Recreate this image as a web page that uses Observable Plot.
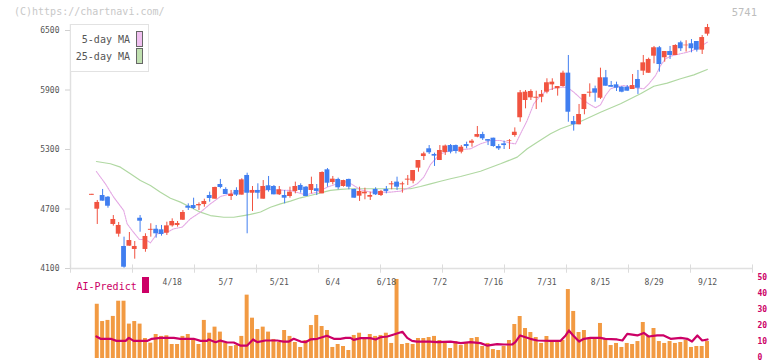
<!DOCTYPE html>
<html><head><meta charset="utf-8">
<script src="https://cdn.jsdelivr.net/npm/d3@7"></script>
<script src="https://cdn.jsdelivr.net/npm/@observablehq/plot@0.6"></script>
<style>
body{margin:0;background:#fff;}
#wrap{position:relative;width:772px;height:361px;font-family:"DejaVu Sans Mono",monospace;overflow:hidden;}
#wrap svg{position:absolute;left:0;}
.hdr{position:absolute;font-size:10px;line-height:12px;white-space:nowrap;}
#legend{position:absolute;left:70px;top:24px;width:77px;height:46px;border:1px solid #e2e2e2;background:#fff;}
.lg{position:absolute;right:18px;font-size:10px;line-height:12px;color:#555;white-space:nowrap;}
.sw{position:absolute;left:65px;width:5px;height:14px;border:1px solid #666;}
#aisw{position:absolute;left:142px;top:277px;width:7px;height:16px;background:#cc0066;}
</style></head><body>
<div id="wrap">
</div>
<script>
// ---- data ----
const openP  = [4838,4698,4836,4819,4544,4446,4322,4325,4292,4607,4292,4485,4496,4490,4456,4530,4534,4587,4728,4735,4732,4745,4836,4799,4947,4897,4826,4887,4840,5038,4859,4887,4799,4934,4927,4843,4836,4826,4877,4937,4920,4887,4904,4853,5095,4967,4998,4927,4998,4897,4829,4853,4819,4897,4836,4897,4944,4971,4944,4991,4981,5112,5229,5307,5250,5189,5270,5340,5340,5273,5350,5363,5424,5451,5400,5414,5330,5357,5380,5441,5620,5794,5821,5817,5827,5878,5952,5912,5935,6070,5582,5549,5703,5868,5912,5817,6023,5945,5952,5928,5928,5905,6006,6090,6069,6241,6326,6225,6288,6248,6376,6346,6366,6389,6302,6463];
const highP  = [4848,4786,4897,4826,4634,4564,4416,4463,4372,4634,4450,4551,4534,4534,4567,4601,4574,4685,4752,4809,4762,4799,4870,4920,4998,4914,4887,4914,5005,5061,4927,4954,4987,5028,4937,4927,4887,4920,4971,4954,4927,5021,4947,5075,5108,5028,5011,4990,5001,4900,4920,4910,4870,4914,4887,4927,4977,5021,4971,5038,5088,5189,5273,5340,5263,5340,5345,5350,5345,5340,5374,5400,5532,5474,5400,5414,5350,5384,5400,5518,5895,5895,5902,5888,5895,6013,6013,5935,6090,6248,5633,5754,5855,5962,5939,6120,6097,5986,5979,5935,5945,6056,6097,6248,6221,6339,6339,6288,6339,6356,6392,6397,6409,6389,6449,6561];
const lowP   = [4838,4544,4779,4708,4527,4416,4103,4325,4194,4466,4264,4416,4406,4426,4433,4517,4517,4584,4685,4695,4685,4718,4769,4799,4904,4846,4786,4826,4840,4450,4675,4799,4799,4870,4843,4836,4752,4809,4853,4860,4826,4853,4836,4853,4920,4944,4894,4920,4894,4809,4776,4793,4786,4836,4826,4853,4894,4887,4860,4937,4954,5071,5189,5250,5129,5189,5240,5256,5256,5256,5307,5323,5418,5391,5340,5323,5290,5300,5300,5424,5575,5710,5794,5703,5771,5861,5895,5838,5928,5575,5485,5549,5650,5827,5777,5804,5938,5928,5885,5872,5888,5905,5855,6046,6069,6164,6080,6180,6208,6248,6288,6282,6275,6282,6258,6443];
const closeP = [4848,4766,4779,4728,4594,4534,4113,4382,4322,4577,4423,4495,4450,4443,4530,4574,4554,4665,4708,4705,4745,4776,4806,4917,4917,4846,4849,4840,4994,4859,4887,4859,4927,4887,4843,4894,4809,4870,4927,4887,4826,4947,4877,5068,4960,5001,4914,4987,4920,4809,4877,4870,4836,4843,4877,4877,4954,4920,4954,5001,5088,5189,5256,5267,5233,5290,5335,5273,5280,5323,5330,5384,5451,5408,5384,5330,5307,5340,5387,5474,5872,5878,5885,5827,5855,5973,5979,5935,6070,5676,5549,5653,5855,5878,5868,6023,5938,5928,5918,5878,5888,5945,5918,6174,6208,6326,6157,6288,6248,6349,6316,6352,6316,6302,6429,6530];
// volume bars (right-axis units), index 0 has no bar
const volume = [null,33.9,23.1,23.8,26.3,35.8,35.8,21.5,23.1,21.5,12.5,9.6,15,13.8,14.2,8.75,8.75,13.8,15,12.3,8.75,23.8,15.8,19.6,16.5,9.6,7.5,8.1,13.8,39.6,25.2,18.1,19.6,16.5,11.9,10,17.5,13.8,10,6.9,11.25,20.6,26.9,20,17.5,6.9,8.75,7.5,5,14.4,15.8,11.9,15,13.8,14.4,15.8,9.4,49.4,8.75,9.4,8.75,12.5,12.5,13.1,13.8,11.25,10,6.25,10.6,8.1,10,12.5,13.1,7.5,9.4,5.6,5,7.5,11.25,21.25,26.25,18.75,16.25,13.1,9.4,13.75,10,10,11.25,43.1,29.4,16.25,17.5,12.5,12.5,21.9,11.9,8.1,9.4,6.9,9.4,8.75,10.6,22.5,13.75,18.75,10.6,9.4,10.6,9.4,10,11.25,6.9,7.5,7.5,10.6];
// moving averages: day position and value
const ma5Day = [0.84,2.52,4.07,5.94,6.58,7.51,8.88,10.0,10.93,12.18,14.05,15.28,16.85,18.4,20.27,22.14,24.01,25.88,27.75,29.62,33.35,37.09,39.89,42.08,43.95,45.81,47.68,48.92,50.17,52.04,53.9,55.77,57.64,59.51,60.76,62.0,63.25,64.5,65.12,66.99,70.72,72.59,74.46,76.33,78.2,79.13,81.3,82.55,83.8,85.05,86.92,88.79,90.02,91.3,92.82,94.07,95.01,95.94,96.88,97.81,99.36,100.62,103.1,104.04,105.29,106.22,107.16,108.09,109.34,111.21,113.08,114.95];
const ma5Val = [5078,4954,4819,4685,4551,4483,4392,4392,4359,4450,4466,4500,4517,4601,4668,4752,4826,4853,4887,4880,4894,4887,4843,4870,4920,4954,4977,4937,4894,4870,4870,4870,4880,4920,4954,5021,5149,5223,5256,5290,5307,5357,5391,5391,5364,5357,5592,5761,5845,5895,5928,5928,5878,5815,5761,5720,5751,5845,5912,5928,5945,5928,5912,5962,6046,6147,6215,6241,6258,6281,6316,6382];
const ma25Day = [0.84,3.46,5.33,7.19,9.06,10.93,12.8,14.67,16.54,18.4,20.27,22.14,24.63,26.5,28.36,29.6,31.5,33.35,35.22,37.09,38.96,40.83,42.7,44.56,46.43,48.3,52.04,55.77,59.51,61.38,63.25,65.12,66.99,68.86,72.59,76.33,79.45,81.32,83.18,85.67,87.54,91.27,95.01,98.75,102.48,104.97,107.47,109.96,112.45,114.95];
const ma25Val = [5179,5156,5122,5055,4987,4937,4870,4809,4769,4718,4668,4634,4617,4617,4634,4645,4670,4718,4752,4779,4813,4836,4863,4887,4897,4904,4904,4904,4904,4927,4954,4980,5005,5028,5081,5156,5223,5307,5374,5458,5509,5582,5676,5761,5862,5938,5969,6013,6053,6107];
// AI-Predict line
const aiDay = [0.84,1.6,3.5,4.6,6.3,6.9,7.8,10.3,11.2,12.8,15.3,16.5,19,20.3,21.5,21.8,23.1,24,25.3,26.5,27.7,29,30.1,30.9,32.4,34.6,35.8,36.8,37.7,39,39.9,40.8,42.1,43.9,45.2,46.4,47.4,48.3,48.9,50.2,52,53,53.9,55.2,56.4,58,58.9,59.8,60.7,63.2,64.5,67,68.9,70.7,72.6,73.8,75.7,77,78.5,79.1,80,81,81.9,83.2,85.7,87.5,88.5,89.1,89.9,91,91.9,93.1,95,95.9,98.1,99.1,100,101.9,103.1,104,105.6,106.8,108.1,110,111.2,112.1,113.1,114,115];
const aiVal = [13.75,12.3,12.3,11,11,12.9,11,11,12.3,12.9,12.9,12.3,12.3,11,11,11.9,10.2,11.2,10,10,8.1,8.1,11.9,10.2,11.25,11.25,10.6,10.6,12.3,10.6,10.2,11.9,12.3,14.2,12.3,12.3,12.9,12.9,11.6,12.7,12.7,11.9,13.3,13.75,15,16.7,12.9,11,10.6,10.6,10.2,10.6,9.6,10.2,9.6,8.1,9,8.75,8.75,10.2,14.4,13.3,12.3,11.25,11,11,14.4,17.5,14.4,10.6,12.3,12.9,12.9,12.3,11.9,11.25,15.4,14.4,16,13.75,14.4,14.4,12.3,12.9,12.3,10.6,14.4,11.25,11.9];
const dateDay = [15,25,35,45,55,65,75,85,95,105,115];
const dateLabels = ["4/18","5/7","5/21","6/4","6/18","7/2","7/16","7/31","8/15","8/29","9/12"];
const priceTicks = [4100,4700,5300,5900,6500];
const aiTicks = [0,10,20,30,40,50];

// ---- build ----
const RED = "#f15340", BLUE = "#407ef0", ORANGE = "#f29a42", MAG = "#cc0066";
const candles = openP.map((o,i)=>({i, open:o, high:highP[i], low:lowP[i], close:closeP[i]}));
const up = d => d.close >= d.open;
const vols = volume.map((v,i)=>({i, v})).filter(d=>d.v!=null);
const ma5 = ma5Day.map((d,k)=>({d, v:ma5Val[k]}));
const ma25 = ma25Day.map((d,k)=>({d, v:ma25Val[k]}));
const ai = aiDay.map((d,k)=>({d, v:aiVal[k]}));
const dates = dateDay.map((d,k)=>({d, t:dateLabels[k]}));
const XD = [-4, 123.4];
const frameTicks = d3.range(12).map(k => XD[0] + k*(XD[1]-XD[0])/11);
const FONT = "DejaVu Sans Mono";
const hw = 0.45, vw = 0.37;

const topChart = Plot.plot({
  width: 772, height: 276,
  marginLeft: 70, marginRight: 20, marginTop: 30, marginBottom: 8,
  x: {domain: XD, axis: null},
  y: {domain: [4100, 6500], axis: null},
  style: {fontFamily: FONT, background: "transparent", overflow: "visible"},
  marks: [
    Plot.ruleX([XD[0]], {y1: 4100, y2: 6560, stroke: "#e0e0e0", strokeWidth: 1.5}),
    Plot.ruleY([4100], {stroke: "#e0e0e0", strokeWidth: 1.5}),
    Plot.ruleX(frameTicks, {y1: 4052, y2: 4136, stroke: "#dcdcdc"}),
    Plot.axisY(priceTicks, {tickSize: 5, tickPadding: 6, stroke: "#d0d0d0", fill: "#555", fontSize: 8, tickFormat: d3.format("d"), label: null}),
    Plot.line(ma25, {x: "d", y: "v", stroke: "#b0d8a2", strokeWidth: 1.2}),
    Plot.line(ma5, {x: "d", y: "v", stroke: "#e4a8e4", strokeWidth: 1.1, strokeDasharray: "1.5,1"}),
    Plot.ruleX(candles, {filter: up, x: "i", y1: "low", y2: "high", stroke: RED, strokeWidth: 1}),
    Plot.ruleX(candles, {filter: d=>!up(d), x: "i", y1: "low", y2: "high", stroke: BLUE, strokeWidth: 1}),
    Plot.rect(candles, {filter: up, x1: d=>d.i-hw, x2: d=>d.i+hw, y1: "open", y2: "close", fill: RED}),
    Plot.rect(candles, {filter: d=>!up(d), x1: d=>d.i-hw, x2: d=>d.i+hw, y1: "open", y2: "close", fill: BLUE})
  ]
});
topChart.style.top = "0px";

const bottomChart = Plot.plot({
  width: 772, height: 85,
  marginLeft: 70, marginRight: 20, marginTop: 2, marginBottom: 3,
  x: {domain: XD, axis: null},
  y: {domain: [0, 50], axis: null},
  style: {fontFamily: FONT, background: "transparent", overflow: "visible"},
  marks: [
    Plot.rectY(vols, {x1: d=>d.i-vw, x2: d=>d.i+vw, y: "v", fill: ORANGE}),
    Plot.line(ai, {x: "d", y: "v", stroke: MAG, strokeWidth: 2.2}),
    Plot.axisY(aiTicks, {anchor: "right", tickSize: 0, tickPadding: 5, dy: -1.5, fill: MAG, fontSize: 8, fontWeight: "bold", label: null}),
    Plot.text(dates, {x: "d", text: "t", frameAnchor: "top", dy: 4, lineAnchor: "middle", fill: "#555", fontSize: 8}),
    Plot.text(["AI-Predict"], {frameAnchor: "top-left", dx: 6, dy: 8, lineAnchor: "middle", textAnchor: "start", fill: MAG, fontSize: 10})
  ]
});
bottomChart.style.top = "276px";

const wrap = document.getElementById("wrap");
wrap.appendChild(topChart);
wrap.appendChild(bottomChart);
wrap.insertAdjacentHTML("beforeend", `
  <div class="hdr" style="left:14px;top:6px;color:#c8c8c8;">(C)https://chartnavi.com/</div>
  <div class="hdr" style="right:15px;top:6px;color:#bdbdbd;font-size:10.5px;">5741</div>
  <div id="legend">
    <div class="lg" style="top:9px;">5-day MA</div>
    <div class="sw" style="top:6px;background:#f0c0f0;"></div>
    <div class="lg" style="top:26px;">25-day MA</div>
    <div class="sw" style="top:23px;background:#c0e0b0;"></div>
  </div>
  <div id="aisw"></div>
`);
</script>
</body></html>
